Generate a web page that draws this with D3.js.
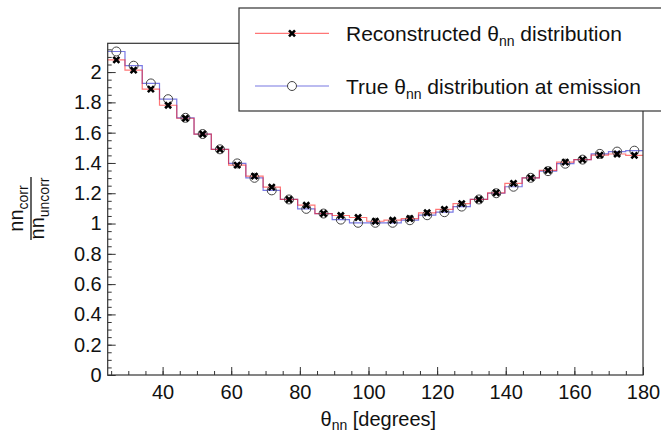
<!DOCTYPE html>
<html>
<head>
<meta charset="utf-8">
<script src="https://d3js.org/d3.v7.min.js"></script>
<style>
  body { margin: 0; background: #fff; }
  svg { font-family: "Liberation Sans", Arial, sans-serif; }
  .axis path.domain { display: none; }
  .axis line { stroke: #333; }
  .axis text { font-size: 20px; fill: #111; }
</style>
</head>
<body>
<div id="chart"></div>
<script>
// 31 bins between 24 and 180 degrees
var xMin = 24, xMax = 180, nBins = 31;

var reconstructed = [2.081, 2.013, 1.887, 1.781, 1.695, 1.591, 1.490, 1.386, 1.313, 1.240,
                     1.159, 1.121, 1.066, 1.053, 1.040, 1.015, 1.022, 1.033, 1.071, 1.093,
                     1.132, 1.159, 1.203, 1.265, 1.302, 1.351, 1.406, 1.422, 1.452, 1.459, 1.450];
var trueEmission  = [2.136, 2.042, 1.925, 1.821, 1.698, 1.591, 1.490, 1.397, 1.302, 1.219,
                     1.159, 1.097, 1.066, 1.026, 1.005, 1.005, 1.005, 1.022, 1.055, 1.075,
                     1.112, 1.159, 1.200, 1.243, 1.302, 1.346, 1.395, 1.422, 1.460, 1.475, 1.481];

var xTicks = [40, 60, 80, 100, 120, 140, 160, 180];
var yTicks = [0, 0.2, 0.4, 0.6, 0.8, 1, 1.2, 1.4, 1.6, 1.8, 2];

var W = 661, H = 436;
var plot = { left: 107.7, right: 643, top: 43.3, bottom: 375 };

var svg = d3.select("#chart").append("svg")
    .attr("width", W).attr("height", H);

var x = d3.scaleLinear().domain([xMin, xMax]).range([plot.left, plot.right]);
var y = d3.scaleLinear().domain([0, 2.19]).range([plot.bottom, plot.top]);

var binW = (xMax - xMin) / nBins;
function bins(vals) {
    return vals.map(function (v, i) {
        return { lo: xMin + i * binW, hi: xMin + (i + 1) * binW, c: xMin + (i + 0.5) * binW, v: v };
    });
}
var recBins = bins(reconstructed), trueBins = bins(trueEmission);

// minor ticks
svg.append("g").attr("class", "axis")
    .attr("transform", "translate(0," + plot.bottom + ")")
    .call(d3.axisBottom(x).tickValues(d3.range(25, 180.1, 5)).tickSizeInner(-4).tickSizeOuter(0).tickFormat(""));
svg.append("g").attr("class", "axis")
    .attr("transform", "translate(" + plot.left + ",0)")
    .call(d3.axisLeft(y).tickValues(d3.range(0, 2.16, 0.05)).tickSizeInner(-4).tickSizeOuter(0).tickFormat(""));

// major ticks + labels
svg.append("g").attr("class", "axis")
    .attr("transform", "translate(0," + plot.bottom + ")")
    .call(d3.axisBottom(x).tickValues(xTicks).tickSizeInner(-8).tickSizeOuter(0).tickPadding(10));
svg.append("g").attr("class", "axis")
    .attr("transform", "translate(" + plot.left + ",0)")
    .call(d3.axisLeft(y).tickValues(yTicks).tickSizeInner(-8).tickSizeOuter(0).tickPadding(6)
        .tickFormat(function (d) { return d3.format("~g")(d); }));

// histograms as steps
function stepPts(b) {
    var pts = [];
    b.forEach(function (d) { pts.push([x(d.lo), y(d.v)], [x(d.hi), y(d.v)]); });
    return pts;
}
var line = d3.line();
svg.append("path").attr("d", line(stepPts(trueBins)))
    .attr("fill", "none").attr("stroke", "#2020d0").attr("stroke-opacity", 0.6).attr("stroke-width", 1.2);
svg.append("path").attr("d", line(stepPts(recBins)))
    .attr("fill", "none").attr("stroke", "#ff1a1a").attr("stroke-opacity", 0.6).attr("stroke-width", 1.2);

function crossPath(cx, cy, s) {
    return "M" + (cx - s) + "," + (cy - s) + "L" + (cx + s) + "," + (cy + s) +
           "M" + (cx - s) + "," + (cy + s) + "L" + (cx + s) + "," + (cy - s);
}

svg.selectAll("circle.true").data(trueBins).enter().append("circle")
    .attr("class", "true")
    .attr("cx", function (d) { return x(d.c); })
    .attr("cy", function (d) { return y(d.v); })
    .attr("r", 4.5)
    .attr("fill", "none").attr("stroke", "#444").attr("stroke-width", 1);

svg.selectAll("path.rec").data(recBins).enter().append("path")
    .attr("class", "rec")
    .attr("d", function (d) { return crossPath(x(d.c), y(d.v), 3); })
    .attr("stroke", "#000").attr("stroke-width", 2.6);

// frame
svg.append("rect")
    .attr("x", plot.left).attr("y", plot.top)
    .attr("width", plot.right - plot.left).attr("height", plot.bottom - plot.top)
    .attr("fill", "none").attr("stroke", "#333").attr("stroke-width", 1.2);

// legend
var leg = svg.append("g");
leg.append("rect").attr("x", 239).attr("y", 8).attr("width", 440).attr("height", 103)
    .attr("fill", "#fff").attr("stroke", "#333").attr("stroke-width", 1.2);

function legText(g, xx, yy, parts) {
    var t = g.append("text").attr("x", xx).attr("y", yy).attr("font-size", 21).attr("fill", "#111");
    t.append("tspan").text(parts[0]);
    t.append("tspan").attr("font-size", 14).attr("dy", 5).text("nn");
    t.append("tspan").attr("dy", -5).text(parts[1]);
}

leg.append("line").attr("x1", 255).attr("x2", 329).attr("y1", 33.3).attr("y2", 33.3)
    .attr("stroke", "#ff1a1a").attr("stroke-opacity", 0.6).attr("stroke-width", 1.2);
leg.append("path").attr("d", crossPath(292, 33.3, 3)).attr("stroke", "#000").attr("stroke-width", 2.6);
legText(leg, 346, 40.5, ["Reconstructed \u03b8", " distribution"]);

leg.append("line").attr("x1", 255).attr("x2", 329).attr("y1", 86).attr("y2", 86)
    .attr("stroke", "#2020d0").attr("stroke-opacity", 0.6).attr("stroke-width", 1.2);
leg.append("circle").attr("cx", 292).attr("cy", 86).attr("r", 4.5)
    .attr("fill", "#fff").attr("stroke", "#444").attr("stroke-width", 1);
legText(leg, 346, 93.5, ["True \u03b8", " distribution at emission"]);

// x axis title
var xt = svg.append("text").attr("x", (plot.left + plot.right) / 2 + 3).attr("y", 426)
    .attr("text-anchor", "middle").attr("font-size", 20).attr("fill", "#111");
xt.append("tspan").text("\u03b8");
xt.append("tspan").attr("font-size", 14).attr("dy", 4).text("nn");
xt.append("tspan").attr("dy", -4).text(" [degrees]");

// y axis title: fraction rotated
var yt = svg.append("g").attr("transform", "translate(31,208.5) rotate(-90)");
yt.append("line").attr("x1", -31.5).attr("x2", 31.5).attr("y1", 0).attr("y2", 0)
    .attr("stroke", "#111").attr("stroke-width", 1.3);
var num = yt.append("text").attr("y", -8).attr("text-anchor", "middle").attr("font-size", 20).attr("fill", "#111");
num.append("tspan").text("nn");
num.append("tspan").attr("font-size", 14).attr("dy", 5).text("corr");
var den = yt.append("text").attr("y", 12.5).attr("text-anchor", "middle").attr("font-size", 20).attr("fill", "#111");
den.append("tspan").text("nn");
den.append("tspan").attr("font-size", 14).attr("dy", 5).text("uncorr");
</script>
</body>
</html>
